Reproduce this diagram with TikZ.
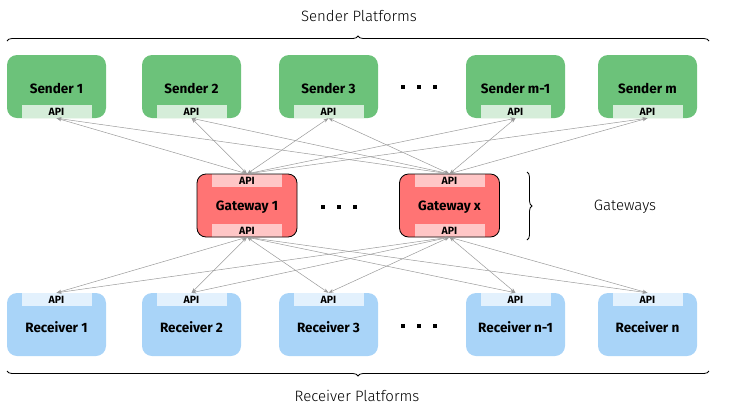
\documentclass[tikz,border=0pt]{standalone}
\usepackage{fontspec}
\setmainfont{Fira Sans}
\newfontfamily\lightfont{Fira Sans}[UprightFont=* Light]
\usetikzlibrary{arrows.meta,decorations.pathreplacing}
\definecolor{sgreen}{HTML}{6CC27A}
\definecolor{sapi}{HTML}{D5EDD9}
\definecolor{gred}{HTML}{FF7474}
\definecolor{gapi}{HTML}{FFC6C6}
\definecolor{rblue}{HTML}{A9D4F8}
\definecolor{rapi}{HTML}{E3F1FD}
\definecolor{conn}{HTML}{9A9A9A}
\tikzset{
  platform/.style={rectangle, rounded corners=10pt, minimum width=99pt, minimum height=63pt, inner sep=0pt},
  sendbox/.style={platform, fill=sgreen},
  recvbox/.style={platform, fill=rblue},
  gatebox/.style={rectangle, rounded corners=9pt, minimum width=100pt, minimum height=63pt, inner sep=0pt},
  apibox/.style={rectangle, minimum width=70pt, minimum height=13pt, inner sep=0pt, font=\fontsize{10.5}{11}\selectfont\bfseries},
  boxlabel/.style={font=\fontsize{13.5}{15}\selectfont\bfseries},
  dotmark/.style={rectangle, fill=black, minimum size=3.8pt, inner sep=0pt},
  heading/.style={font=\lightfont\fontsize{15}{17}\selectfont},
  link/.style={draw=conn, line width=0.5pt, {Stealth[length=5pt,width=3.5pt]}-{Stealth[length=5pt,width=3.5pt]}},
  bracebar/.style={draw=black, line width=0.8pt, decorate, decoration={brace, amplitude=5pt}}
}
\begin{document}
\begin{tikzpicture}[x=1pt,y=-1pt]
\useasboundingbox (0,0) rectangle (732,416);
% senders
\foreach \nm/\x/\t in {s1/56.5/Sender 1, s2/191.5/Sender 2, s3/328.5/Sender 3, s4/515.5/Sender m-1, s5/647.5/Sender m}{
  \node[sendbox] (\nm) at (\x,86.5) {};
  \node[boxlabel] (\nm l) at (\x,88) {\t};
  \node[apibox, fill=sapi] (\nm a) at (\x,111.5) {API};
}
% receivers
\foreach \nm/\x/\t in {r1/56.5/Receiver 1, r2/191.5/Receiver 2, r3/328.5/Receiver 3, r4/515.5/Receiver n-1, r5/647.5/Receiver n}{
  \node[recvbox] (\nm) at (\x,324.5) {};
  \node[boxlabel] (\nm l) at (\x,327) {\t};
  \node[apibox, fill=rapi] (\nm a) at (\x,299.5) {API};
}
% gateways
\foreach \nm/\x/\t in {g1/247/Gateway 1, g2/449.5/Gateway x}{
  \begin{scope}
  \path[fill=gred, rounded corners=9pt] (\x-50,174) rectangle (\x+50,237);
  \clip[rounded corners=9pt] (\x-50,174) rectangle (\x+50,237);
  \node[apibox, fill=gapi] (\nm t) at (\x,180.5) {API};
  \node[apibox, fill=gapi] (\nm b) at (\x,230.5) {API};
  \end{scope}
  \node[gatebox, draw=black, line width=0.8pt] (\nm) at (\x,205.5) {};
  \node[boxlabel] (\nm l) at (\x,207.5) {\t};
}
% dots
\foreach \x [count=\i] in {403,419,435} \node[dotmark] (sd\i) at (\x,87) {};
\foreach \x [count=\i] in {323,339,355} \node[dotmark] (gd\i) at (\x,207) {};
\foreach \x [count=\i] in {403,419,435} \node[dotmark] (rd\i) at (\x,326) {};
% links
\foreach \s in {s1,s2,s3,s4,s5}{
  \foreach \g in {g1,g2}{
    \draw[link] (\s a.south) -- (\g t.north);
  }
}
\foreach \r in {r1,r2,r3,r4,r5}{
  \foreach \g in {g1,g2}{
    \draw[link] (\g b.south) -- (\r a.north);
  }
}
% braces and headings
\coordinate (tbl) at (7,41);
\coordinate (tbr) at (709,41);
\draw[bracebar] (tbl) -- (tbr);
\node[heading] (sp) at (359,16) {Sender Platforms};
\coordinate (bbl) at (7,371);
\coordinate (bbr) at (709,371);
\draw[bracebar] (bbr) -- (bbl);
\node[heading] (rp) at (357,396) {Receiver Platforms};
\coordinate (gbt) at (527,172);
\coordinate (gbb) at (527,240);
\draw[bracebar] (gbt) -- (gbb);
\node[heading] (gw) at (625,207) {Gateways};
\end{tikzpicture}
\end{document}
